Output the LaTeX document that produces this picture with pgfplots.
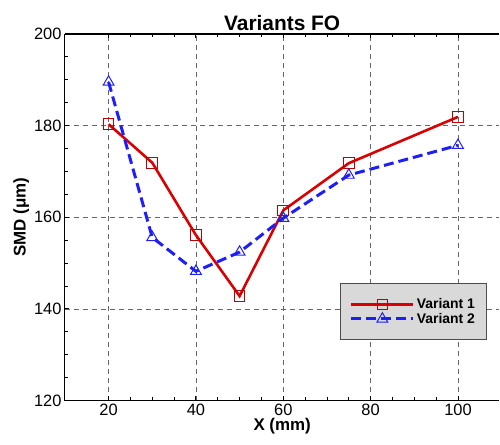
\documentclass[border=0pt]{standalone}
\usepackage{pgfplots}
\pgfplotsset{compat=1.18}
\usepackage{fontspec}
\setmainfont{Liberation Sans}
\definecolor{vred}{RGB}{218,0,0}
\definecolor{vblue}{RGB}{30,30,250}
\definecolor{leggray}{RGB}{217,217,217}
\begin{document}
\begin{tikzpicture}
\begin{axis}[
  scale only axis,
  width=435bp, height=367bp,
  xmin=10, xmax=109.5, ymin=120, ymax=200,
  axis x line*=box, axis y line*=left,
  xtick={20,40,60,80,100}, ytick={120,140,160,180,200},
  minor x tick num=3, minor y tick num=3,
  tick align=inside,
  major tick length=4.5bp, minor tick length=3.5bp,
  tick style={black, line width=0.9pt},
  axis line style={black, line width=1.1pt},
  grid=major,
  major grid style={black!60, line width=0.8pt, dash pattern=on 5bp off 4bp},
  /pgf/number format/assume math mode=true,
  ticklabel style={font=\fontsize{16.5}{18}\selectfont},
  title={\textbf{Variants FO}},
  title style={font=\fontsize{21}{23}\selectfont, yshift=-6bp},
  xlabel={\textbf{X (mm)}},
  ylabel={\textbf{SMD (μm)}},
  xlabel style={font=\fontsize{17}{19}\selectfont, yshift=4bp},
  ylabel style={font=\fontsize{17}{19}\selectfont, yshift=-2bp},
  legend style={at={(0.972,0.32)}, anchor=north east, fill=leggray, draw=black!70,
    line width=0.9pt, font=\fontsize{14}{15}\selectfont\bfseries,
    row sep=-1pt, inner xsep=10pt, inner ysep=13pt},
  legend cell align=left,
  legend image code/.code={\draw[#1] (0bp,0bp) -- (62bp,0bp); \draw[#1,solid] plot coordinates {(31bp,0bp)};},
]
\addplot[vred, line width=2.6pt, mark=square, mark size=5.3bp, mark options={solid, line width=1pt, draw=red!75!black}]
  coordinates {(20,180.3) (30,171.9) (40,156.1) (50,142.8) (60,161.5) (75,171.8) (100,181.9)};
\addlegendentry{Variant 1}
\addplot[vblue, line width=3pt, dash pattern=on 10bp off 5bp, mark=triangle, mark size=6.3bp, mark options={solid, line width=1pt}]
  coordinates {(20,189.5) (30,155.6) (40,148.2) (50,152.4) (60,159.8) (75,169.2) (100,175.7)};
\addlegendentry{Variant 2}
\end{axis}
\path ([xshift=-65bp,yshift=-44bp]current axis.south west) ([yshift=34bp]current axis.north east);
\end{tikzpicture}
\end{document}
